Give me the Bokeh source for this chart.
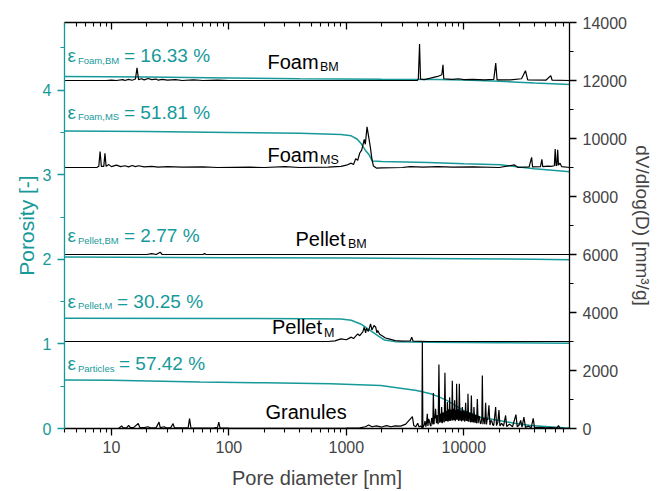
from bokeh.plotting import figure
from bokeh.models import Range1d, LinearAxis, LogAxis, FixedTicker, Label, NumeralTickFormatter
from bokeh.embed import file_html
from bokeh.resources import INLINE

TEAL = "#17999a"
FONT = "Liberation Sans"

# ---------------- data: pore size distributions dV/dlog(D) [mm^3/g] (stacked, right axis) ----
foam_bm_dv = [(4, 12000), (9, 12000), (10, 12010), (11, 12000), (12.5, 12030), (13, 12000), (14, 12040),
              (15, 12010), (16, 12050), (16.5, 12440), (17, 12030), (18, 12060), (19, 12020), (20.5, 12070),
              (22, 12030), (24, 12050), (25, 12010), (27, 12040), (30, 12010), (35, 12030), (40, 12000),
              (50, 12020), (60, 12000), (80, 12010), (100, 12000), (4000, 12000), (4100, 12050),
              (4200, 13260), (4280, 12050), (4600, 12030), (5200, 12080), (6000, 12140), (6500, 12200),
              (6650, 12540), (6750, 12060), (8000, 12040), (9000, 12060), (10000, 12030), (12000, 12040),
              (15000, 12020), (18000, 12040), (18700, 12600), (19200, 12020), (25000, 12020),
              (31000, 12060), (33500, 12340), (35000, 12020), (50000, 12010), (55000, 12170),
              (56500, 12010), (80000, 12000)]

foam_ms_dv = [(4, 9000), (7.5, 9000), (7.8, 9040), (8.0, 9550), (8.2, 9040), (8.6, 9040), (8.8, 9490),
              (9.0, 9040), (9.5, 9100), (10, 9030), (11, 9080), (12, 9030), (13, 9060), (14, 9020),
              (15, 9070), (16, 9030), (17, 9060), (19, 9020), (22, 9040), (25, 9010), (30, 9030),
              (40, 9010), (60, 9020), (80, 9000), (150, 9010), (200, 9000), (300, 9030), (400, 9000),
              (700, 9010), (900, 9040), (1000, 9080), (1100, 9150), (1150, 9100), (1200, 9300),
              (1250, 9250), (1300, 9500), (1350, 9600), (1420, 9970), (1450, 9800), (1500, 10400),
              (1550, 10050), (1600, 9700), (1650, 9300), (1700, 9050), (1800, 8980), (2000, 8990),
              (3000, 9000), (3500, 9030), (4500, 9010), (6000, 9030), (8000, 9010), (12000, 9020),
              (20000, 9000), (27000, 9090), (29000, 9000), (36000, 9020), (37800, 9350), (38500, 9020),
              (45000, 9030), (46200, 9280), (47000, 9030), (52000, 9050), (55000, 9040), (59000, 9060),
              (60000, 9640), (61000, 9060), (62000, 9080), (63000, 9610), (64000, 9080), (66000, 9150),
              (68000, 9030), (80000, 9000)]

pellet_bm_dv = [(4, 6000), (20, 6000), (22, 6030), (24, 6000), (26, 6080), (27, 6000), (60, 6000),
                (62, 6030), (64, 6000), (3000, 6000), (80000, 6000)]

pellet_m_dv = [(4, 3000), (700, 3000), (800, 3020), (900, 3090), (1000, 3060), (1100, 3150), (1150, 3100),
               (1250, 3260), (1300, 3200), (1380, 3330), (1420, 3490), (1460, 3300), (1480, 3450),
               (1540, 3350), (1607, 3610), (1650, 3400), (1720, 3550), (1780, 3490), (1820, 3300),
               (1850, 3380), (1920, 3250), (2000, 3210), (2150, 3120), (2300, 3090), (2600, 3030),
               (3000, 3010), (3500, 3020), (3600, 3150), (3700, 3010), (5000, 3000), (80000, 3000)]

granules_dv = [(4, 0), (11.5, 0), (12.2, 90), (12.6, 20), (13.5, 30), (14, 110), (14.5, 30), (15.5, 40),
               (16.9, 170), (17.4, 40), (19, 30), (20.5, 60), (21.5, 20), (24, 30), (25.4, 220), (26, 30),
               (28.3, 60), (29, 20), (32, 30), (33.5, 170), (34.3, 20), (40, 20), (45, 30), (46.2, 340),
               (47.5, 20), (60, 10), (75, 20), (80, 40), (82, 220), (84, 20), (100, 10), (200, 5),
               (500, 5), (1000, 10), (1300, 20), (1450, 60), (1550, 120), (1650, 60), (1800, 90),
               (2000, 50), (2200, 100), (2400, 60), (2600, 90), (2900, 80), (3200, 150), (3450, 300),
               (3650, 410), (3750, 100), (3900, 60), (4050, 180), (4150, 60), (4300, 80), (4400, 30),
               (4436, 2980), (4480, 30), (4600, 120), (4680, 260), (4750, 60), (4820, 200), (4890, 510),
               (4950, 90), (5020, 330), (5100, 250), (5180, 120), (5250, 80), (5320, 360), (5400, 300),
               (5450, 140), (5505, 1220), (5580, 150), (5630, 420), (5680, 350), (5754, 680), (5850, 180),
               (5900, 460), (5950, 420), (6000, 200), (6050, 150), (6140, 2210), (6230, 200), (6290, 480),
               (6350, 500), (6410, 210), (6475, 740), (6560, 180), (6630, 520), (6700, 550), (6760, 240),
               (6820, 220), (6907, 1920), (7000, 250), (7060, 560), (7120, 600), (7180, 260), (7244, 910),
               (7330, 230), (7390, 640), (7450, 650), (7510, 270), (7575, 1080), (7680, 260), (7750, 640),
               (7830, 620), (7900, 280), (7983, 1650), (8080, 280), (8150, 660), (8220, 680), (8290, 290),
               (8350, 970), (8450, 250), (8520, 640), (8580, 600), (8630, 300), (8683, 1540), (8800, 300),
               (8880, 640), (8950, 650), (9000, 300), (9050, 260), (9160, 1540), (9280, 280), (9370, 600),
               (9450, 620), (9520, 290), (9600, 250), (9720, 740), (9850, 280), (9950, 600), (10050, 580),
               (10120, 270), (10200, 240), (10370, 890), (10500, 260), (10600, 570), (10700, 560),
               (10780, 250), (10850, 1200), (11000, 230), (11120, 540), (11250, 520), (11350, 240),
               (11450, 220), (11600, 1140), (11750, 220), (11850, 500), (11950, 480), (12070, 210),
               (12200, 740), (12400, 200), (12520, 460), (12650, 450), (12750, 200), (12850, 190),
               (13040, 1020), (13250, 180), (13420, 420), (13600, 400), (13800, 180), (14000, 170),
               (14250, 380), (14380, 1830), (14550, 150), (14700, 350), (14900, 330), (15100, 150),
               (15340, 890), (15600, 140), (15800, 310), (16000, 300), (16370, 800), (16700, 120),
               (17000, 270), (17300, 260), (17650, 120), (18000, 110), (18670, 740), (19000, 100),
               (19500, 220), (19920, 640), (20300, 90), (21000, 180), (21800, 80), (22700, 450),
               (23200, 70), (24500, 150), (26000, 60), (27800, 480), (28500, 60), (29500, 110), (30500, 280),
               (31300, 50), (32500, 390), (33500, 40), (35500, 80), (37500, 30), (39000, 350), (40000, 30),
               (44000, 40), (50000, 20), (56000, 30), (62000, 15), (64000, 100), (66000, 10), (72000, 5),
               (80000, 0)]

# ---------------- data: cumulative porosity (stacked, left axis) ----------------
foam_bm_por = [(4, 4.163), (20, 4.155), (100, 4.145), (400, 4.135), (2000, 4.128), (6000, 4.125),
               (10000, 4.12), (20000, 4.105), (40000, 4.085), (80000, 4.068)]
foam_ms_por = [(4, 3.518), (20, 3.51), (100, 3.50), (400, 3.49), (900, 3.475), (1100, 3.46), (1240, 3.42),
               (1350, 3.36), (1450, 3.29), (1550, 3.243), (1660, 3.164), (2000, 3.158), (5000, 3.145),
               (10000, 3.13), (20600, 3.117), (40000, 3.07), (80000, 3.035)]
pellet_bm_por = [(4, 2.028), (100, 2.02), (1000, 2.015), (10000, 2.008), (40000, 2.0), (80000, 1.995)]
pellet_m_por = [(4, 1.3025), (100, 1.301), (500, 1.299), (900, 1.295), (1100, 1.28), (1320, 1.236),
                (1450, 1.20), (1607, 1.157), (1850, 1.098), (2100, 1.047), (2600, 1.027), (5000, 1.02),
                (20000, 1.015), (80000, 1.007)]
particles_por = [(4, 0.574), (10, 0.571), (57, 0.55), (200, 0.54), (735, 0.528), (1957, 0.508),
                 (3970, 0.449), (5220, 0.41), (6000, 0.38), (7244, 0.33), (8500, 0.27), (10000, 0.21),
                 (13900, 0.133), (20000, 0.094), (27000, 0.063), (37100, 0.035), (71000, 0.008),
                 (80000, 0.005)]

x_major = [10, 100, 1000, 10000]
y_left_major = [0, 1, 2, 3, 4]
y_right_major = [0, 2000, 4000, 6000, 8000, 10000, 12000, 14000]

eps_labels = [("Foam,BM", "16.33"), ("Foam,MS", "51.81"), ("Pellet,BM", "2.77"),
              ("Pellet,M", "30.25"), ("Particles", "57.42")]
sample_labels = [("Foam", "BM"), ("Foam", "MS"), ("Pellet", "BM"), ("Pellet", "M"), ("Granules", "")]

# ---------------- layout helpers (page pixel -> data) ----------------
X0, X1 = 10 ** 0.6, 10 ** 4.9
FL, FR, FT, FB = 64, 569, 22, 428
DY = -7.5  # text baseline correction


def px2x(px):
    return 10 ** (0.6 + (px - FL) / (FR - FL) * 4.3)


def py2y(py):
    return (FB - (py + DY)) / (FB - FT) * 4.8


W, H = 657, 491
p = figure(width=W, height=H, x_axis_type="log", x_range=Range1d(X0, X1), y_range=Range1d(0, 4.8),
           output_backend="svg", toolbar_location=None,
           min_border_left=FL, min_border_right=W - FR, min_border_top=FT,
           min_border_bottom=H - FB)
p.extra_y_ranges = {"dv": Range1d(0, 14000)}
p.xgrid.grid_line_color = None
p.ygrid.grid_line_color = None
p.outline_line_color = None
p.background_fill_color = "white"
p.border_fill_color = "white"

minor_x = [m * 10 ** e for e in range(0, 5) for m in range(2, 10)]

TICK_FS = "16px"

xa = p.xaxis[0]
xa.ticker = FixedTicker(ticks=x_major, minor_ticks=minor_x)
xa.formatter = NumeralTickFormatter(format="0")
xa.axis_label = "Pore diameter [nm]"
xa.axis_label_text_font = FONT
xa.axis_label_text_font_size = "20px"
xa.axis_label_text_font_style = "normal"
xa.axis_label_standoff = 11
xa.major_label_text_font = FONT
xa.major_label_text_font_size = TICK_FS
xa.major_label_standoff = 5
xa.major_tick_out = 7
xa.major_tick_in = 0
xa.minor_tick_out = 4
xa.minor_tick_in = 0
xa.axis_line_width = 1.3
xa.major_tick_line_width = 1.3
xa.minor_tick_line_width = 1.1

top = LogAxis(ticker=FixedTicker(ticks=x_major, minor_ticks=minor_x),
              formatter=NumeralTickFormatter(format="0"),
              major_label_text_font_size="2px", major_label_text_color=None,
              major_tick_in=7, major_tick_out=0,
              minor_tick_in=4, minor_tick_out=0, axis_line_width=1.3, major_tick_line_width=1.3,
              minor_tick_line_width=1.1, major_label_standoff=0)
p.add_layout(top, "above")

ya = p.yaxis[0]
ya.ticker = FixedTicker(ticks=y_left_major, minor_ticks=[0.5, 1.5, 2.5, 3.5, 4.5])
ya.axis_label = "Porosity [-]"
ya.axis_label_text_font = FONT
ya.axis_label_text_font_size = "21px"
ya.axis_label_text_font_style = "normal"
ya.axis_label_text_color = TEAL
ya.axis_label_standoff = 2
ya.major_label_text_font = FONT
ya.major_label_text_font_size = TICK_FS
ya.major_label_text_color = TEAL
ya.major_label_standoff = 6
ya.axis_line_color = TEAL
ya.major_tick_line_color = TEAL
ya.minor_tick_line_color = TEAL
ya.major_tick_out = 7
ya.major_tick_in = 0
ya.minor_tick_out = 4
ya.minor_tick_in = 0
ya.axis_line_width = 1.3
ya.major_tick_line_width = 1.3
ya.minor_tick_line_width = 1.1

ra = LinearAxis(y_range_name="dv",
                ticker=FixedTicker(ticks=y_right_major, minor_ticks=list(range(1000, 14000, 2000))),
                axis_label="dV/dlog(D) [mm³/g]")
ra.axis_label_text_font = FONT
ra.axis_label_text_font_size = "19px"
ra.axis_label_text_font_style = "normal"
ra.axis_label_standoff = 2
ra.major_label_text_font = FONT
ra.major_label_text_font_size = TICK_FS
ra.major_label_standoff = 6
ra.major_tick_out = 7
ra.major_tick_in = 0
ra.minor_tick_out = 4
ra.minor_tick_in = 0
ra.axis_line_width = 1.3
ra.major_tick_line_width = 1.3
ra.minor_tick_line_width = 1.1
p.add_layout(ra, "right")

# ---------------- curves ----------------
for series in [foam_bm_por, foam_ms_por, pellet_bm_por, pellet_m_por, particles_por]:
    xs, ys = zip(*series)
    p.line(list(xs), list(ys), line_color=TEAL, line_width=1.5)

for series in [foam_bm_dv, foam_ms_dv, pellet_bm_dv, pellet_m_dv, granules_dv]:
    xs, ys = zip(*series)
    p.line(list(xs), list(ys), line_color="black", line_width=1.2, y_range_name="dv")

# ---------------- porosity annotations ----------------
eps_base = [62.7, 119.0, 242.7, 308.3, 370.7]
eps_eq_x = [123.5, 123.5, 123.5, 116.5, 118.5]
for (sub, val), bl, ex in zip(eps_labels, eps_base, eps_eq_x):
    p.add_layout(Label(x=px2x(67), y=py2y(bl), text="ε", text_font=FONT, text_font_size="19px",
                       text_color=TEAL, text_baseline="alphabetic"))
    p.add_layout(Label(x=px2x(77.5), y=py2y(bl + 4.3), text=sub, text_font=FONT, text_font_size="9.5px",
                       text_color=TEAL, text_baseline="alphabetic"))
    p.add_layout(Label(x=px2x(ex), y=py2y(bl), text="= " + val + " %", text_font=FONT,
                       text_font_size="19px", text_color=TEAL, text_baseline="alphabetic"))

# ---------------- sample annotations ----------------
samp_pos = [(267, 68.5, 319.5), (267, 161.5, 319.5), (295, 245.5, 347.5), (271.5, 334.3, 323.5),
            (265, 419.3, 0)]
for (main, sub), (mx, bl, sx) in zip(sample_labels, samp_pos):
    p.add_layout(Label(x=px2x(mx), y=py2y(bl), text=main, text_font=FONT, text_font_size="20px",
                       text_color="black", text_baseline="alphabetic"))
    if sub:
        p.add_layout(Label(x=px2x(sx), y=py2y(bl + 5.5), text=sub, text_font=FONT, text_font_size="12.5px",
                           text_color="black", text_baseline="alphabetic"))

open("out.html", "w").write(file_html(p, INLINE))
